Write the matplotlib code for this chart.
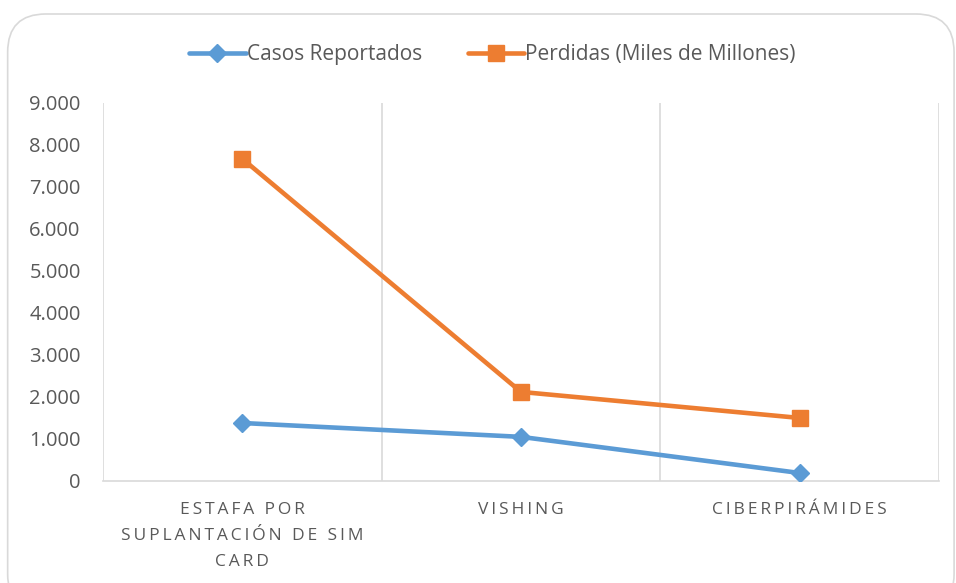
import matplotlib
matplotlib.use("Agg")
import matplotlib.pyplot as plt
from matplotlib.patches import FancyBboxPatch
from matplotlib.ticker import FuncFormatter, FixedLocator

# Data
categories = ["ESTAFA POR\nSUPLANTACIÓN DE SIM\nCARD", "VISHING", "CIBERPIRÁMIDES"]
casos = [1380, 1050, 190]
perdidas = [7670, 2120, 1500]
series_names = ["Casos Reportados", "Perdidas (Miles de Millones)"]

blue = "#5B9BD5"
orange = "#ED7D31"
grid_col = "#D9D9D9"
text_col = "#595959"

plt.rcParams['font.family'] = ['Open Sans', 'DejaVu Sans']


def spaced(s):
    # mimic Excel's letter spacing on the category labels
    return "\n".join("\u2009".join(line) for line in s.split("\n"))


fig = plt.figure(figsize=(9.56, 5.83), dpi=100)

# chart border with rounded corners
border = FancyBboxPatch((0.008, -0.05), 0.99, 1.026, boxstyle="round,pad=0,rounding_size=0.04",
                        transform=fig.transFigure, facecolor="none", edgecolor="#D9D9D9",
                        linewidth=1.2, mutation_aspect=956 / 583, zorder=0)
fig.patches.append(border)

ax = fig.add_axes([0.1077, 0.175, 0.8745, 0.6485])
ax.set_facecolor("none")
x = range(len(categories))
ax.plot(x, casos, color=blue, linewidth=3.3, marker="D", markersize=9.5, label=series_names[0],
        solid_capstyle="round", zorder=3)
ax.plot(x, perdidas, color=orange, linewidth=3.3, marker="s", markersize=12, label=series_names[1],
        solid_capstyle="round", zorder=3)

ax.set_xlim(-0.5, len(categories) - 0.5)
ax.set_ylim(0, 9000)
ax.set_yticks(range(0, 9001, 1000))
ax.yaxis.set_major_formatter(FuncFormatter(lambda v, p: f"{int(v):,}".replace(",", ".")))
ax.set_xticks(list(x))
ax.set_xticklabels([spaced(c) for c in categories], fontsize=12.5, color=text_col, linespacing=1.85)
ax.xaxis.set_minor_locator(FixedLocator([i - 0.5 for i in range(len(categories) + 1)]))
ax.grid(which="minor", axis="x", color=grid_col, linewidth=1.2)
ax.tick_params(axis="both", which="both", length=0)
ax.tick_params(axis="y", labelsize=14.5, labelcolor=text_col, pad=16)
ax.tick_params(axis="x", pad=15)

for s in ["top", "left", "right"]:
    ax.spines[s].set_visible(False)
ax.spines["bottom"].set_color(grid_col)
ax.spines["bottom"].set_linewidth(1.2)

fig.legend(loc="center", bbox_to_anchor=(0.515, 0.906), ncol=2, frameon=False, fontsize=15,
           labelcolor=text_col, handlelength=2.7, handletextpad=0.05, columnspacing=2.2)

fig.savefig("out.png", dpi=100)
